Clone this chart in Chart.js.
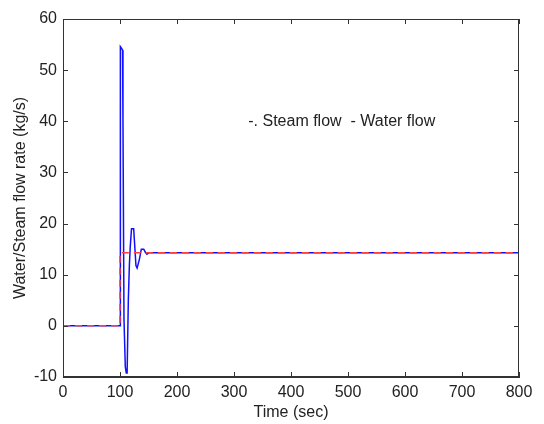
<!DOCTYPE html>
<html>
<head>
<meta charset="utf-8">
<script src="https://cdn.jsdelivr.net/npm/chart.js@4.4.1/dist/chart.umd.min.js"></script>
<style>
  html, body { margin: 0; padding: 0; background: #fff; }
  #wrap { width: 544px; height: 424px; }
</style>
</head>
<body>
<div id="wrap"><canvas id="chart" width="544" height="424"></canvas></div>
<script>
// ---- data ----
const steamTime = [0, 100, 100, 800];
const steamFlow = [0, 0, 14.3, 14.3];

const waterTime = [0, 100, 100.3, 101, 102.5, 104.5, 105.2, 107, 109.3, 111, 112.5, 114.6, 116.5, 118, 120.2, 124, 128, 130, 134, 137.4, 141.6, 144.5, 147.4, 151, 155, 800];
const waterFlow = [0, 0, 47, 54.6, 54.3, 53.9, 40.5, 1.3, -8, -9.2, -9.2, 5, 12, 15.5, 19, 19, 11.8, 11.3, 13, 15, 15, 14.4, 14, 14.3, 14.3, 14.3];

const xTicks = [0, 100, 200, 300, 400, 500, 600, 700, 800];
const yTicks = [-10, 0, 10, 20, 30, 40, 50, 60];

const noteText = '-. Steam flow  - Water flow';
const notePos = [325, 40];

const FONT = 'Liberation Sans, Arial, sans-serif';
const AXIS = '#333';
const TEXT = '#222';

const toPts = (xs, ys) => xs.map((x, i) => ({ x: x, y: ys[i] }));

// box around the axes + inward ticks, MATLAB style
const boxPlugin = {
    id: 'box',
    afterDraw(chart) {
        const { ctx, chartArea: a, scales } = chart;
        ctx.save();
        ctx.strokeStyle = AXIS;
        ctx.lineWidth = 1;
        ctx.strokeRect(a.left + 0.5, a.top + 0.5, a.right - a.left - 1, a.bottom - a.top - 1);
        ctx.beginPath();
        xTicks.forEach(v => {
            const px = Math.round(scales.x.getPixelForValue(v)) + 0.5;
            ctx.moveTo(px, a.bottom); ctx.lineTo(px, a.bottom - 5);
            ctx.moveTo(px, a.top); ctx.lineTo(px, a.top + 5);
        });
        yTicks.forEach(v => {
            const py = Math.round(scales.y.getPixelForValue(v)) + 0.5;
            ctx.moveTo(a.left, py); ctx.lineTo(a.left + 5, py);
            ctx.moveTo(a.right, py); ctx.lineTo(a.right - 5, py);
        });
        ctx.stroke();

        // text annotation inside the axes
        ctx.fillStyle = TEXT;
        ctx.font = '16px ' + FONT;
        ctx.textBaseline = 'middle';
        ctx.fillText(noteText, scales.x.getPixelForValue(notePos[0]), scales.y.getPixelForValue(notePos[1]));
        ctx.restore();
    }
};

new Chart(document.getElementById('chart'), {
    type: 'line',
    data: {
        datasets: [
            {
                label: 'Steam flow',
                data: toPts(steamTime, steamFlow),
                borderColor: '#ff4040',
                borderWidth: 1.5,
                borderDash: [7, 5],
                pointRadius: 0,
                order: 1
            },
            {
                label: 'Water flow',
                data: toPts(waterTime, waterFlow),
                borderColor: '#1010ff',
                borderWidth: 1.5,
                pointRadius: 0,
                order: 2
            }
        ]
    },
    options: {
        responsive: false,
        animation: false,
        devicePixelRatio: 1,
        layout: { padding: { top: 19, right: 25, left: 0, bottom: 0 } },
        plugins: { legend: { display: false }, tooltip: { enabled: false } },
        elements: { line: { tension: 0 } },
        scales: {
            x: {
                type: 'linear',
                min: 0, max: 800,
                afterBuildTicks: s => { s.ticks = xTicks.map(v => ({ value: v })); },
                afterFit: s => { s.height = 47; },
                grid: { display: false, drawTicks: false },
                border: { color: AXIS },
                ticks: { color: TEXT, font: { family: FONT, size: 16 }, padding: 6, maxRotation: 0 },
                title: { display: true, text: 'Time (sec)', color: TEXT, font: { family: FONT, size: 16 }, padding: { top: 0, bottom: 2 } }
            },
            y: {
                type: 'linear',
                min: -10, max: 60,
                afterBuildTicks: s => { s.ticks = yTicks.map(v => ({ value: v })); },
                afterFit: s => { s.width = 63; },
                grid: { display: false, drawTicks: false },
                border: { color: AXIS },
                ticks: { color: TEXT, font: { family: FONT, size: 16 }, padding: 6 },
                title: { display: true, text: 'Water/Steam flow rate (kg/s)', color: TEXT, font: { family: FONT, size: 16 }, padding: { top: 11, bottom: 0 } }
            }
        }
    },
    plugins: [boxPlugin]
});
</script>
</body>
</html>
